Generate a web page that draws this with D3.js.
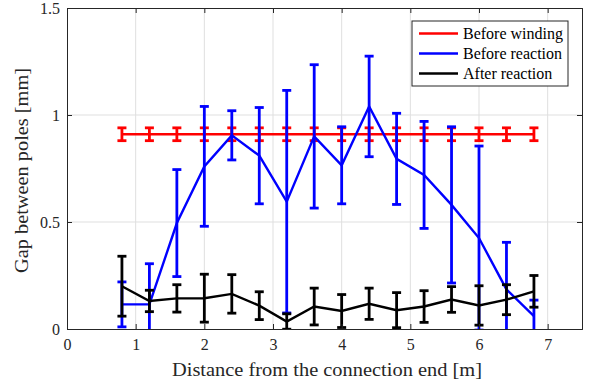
<!DOCTYPE html>
<html>
<head>
<meta charset="utf-8">
<script src="https://cdn.jsdelivr.net/npm/d3@7"></script>
<style>
  body { margin: 0; background: #fff; }
  svg text { font-family: 'Liberation Serif', 'Times New Roman', Times, 'DejaVu Serif', serif !important; }
</style>
</head>
<body>
<svg id="chart" width="591" height="383"></svg>
<script>
const width = 591, height = 383;
const margin = { top: 8, right: 9, bottom: 54, left: 67 };

// positions along the winding [m]
const distance = [0.8, 1.2, 1.6, 2.0, 2.4, 2.8, 3.2, 3.6, 4.0, 4.4, 4.8, 5.2, 5.6, 6.0, 6.4, 6.8];

// gap [mm] and error (half-width)
const beforeWinding = [0.91, 0.91, 0.91, 0.91, 0.91, 0.91, 0.91, 0.91, 0.91, 0.91, 0.91, 0.91, 0.91, 0.91, 0.91, 0.91];
const beforeWindingErr = [0.03, 0.03, 0.03, 0.03, 0.03, 0.03, 0.03, 0.03, 0.03, 0.03, 0.03, 0.03, 0.03, 0.03, 0.03, 0.03];

const beforeReaction = [0.115, 0.115, 0.495, 0.76, 0.905, 0.81, 0.595, 0.9, 0.765, 1.04, 0.795, 0.72, 0.58, 0.425, 0.185, 0.06];
const beforeReactionErr = [0.105, 0.19, 0.25, 0.28, 0.115, 0.225, 0.52, 0.335, 0.18, 0.235, 0.213, 0.25, 0.365, 0.43, 0.22, 0.075];

const afterReaction = [0.2, 0.131, 0.143, 0.144, 0.164, 0.109, 0.035, 0.105, 0.084, 0.118, 0.088, 0.105, 0.138, 0.11, 0.137, 0.176];
const afterReactionErr = [0.14, 0.05, 0.064, 0.112, 0.09, 0.065, 0.036, 0.086, 0.077, 0.073, 0.082, 0.074, 0.06, 0.092, 0.07, 0.074];

const xTicks = [0, 1, 2, 3, 4, 5, 6, 7];
const yTicks = [0, 0.5, 1, 1.5];

const series = [
  { name: 'Before winding', color: '#ff0000', values: beforeWinding, err: beforeWindingErr },
  { name: 'Before reaction', color: '#0000ff', values: beforeReaction, err: beforeReactionErr },
  { name: 'After reaction', color: '#000000', values: afterReaction, err: afterReactionErr }
];

const svg = d3.select('#chart');
const iw = width - margin.left - margin.right;
const ih = height - margin.top - margin.bottom;

const x = d3.scaleLinear().domain([0, 7.5]).range([margin.left, margin.left + iw]);
const y = d3.scaleLinear().domain([0, 1.5]).range([margin.top + ih, margin.top]);

// grid
const grid = svg.append('g').attr('stroke', '#dfdfdf').attr('stroke-width', 1);
grid.selectAll('.gx').data(xTicks.slice(1)).enter().append('line')
  .attr('x1', d => x(d)).attr('x2', d => x(d))
  .attr('y1', y(0)).attr('y2', y(1.5));
grid.selectAll('.gy').data(yTicks.slice(1, -1)).enter().append('line')
  .attr('x1', x(0)).attr('x2', x(7.5))
  .attr('y1', d => y(d)).attr('y2', d => y(d));

// clip to plot area
svg.append('clipPath').attr('id', 'plot-clip').append('rect')
  .attr('x', margin.left).attr('y', margin.top).attr('width', iw).attr('height', ih);

const plot = svg.append('g').attr('clip-path', 'url(#plot-clip)');
const capW = 4.5;

series.forEach(s => {
  const g = plot.append('g').attr('stroke', s.color).attr('fill', 'none');
  const pts = distance.map((d, i) => ({ x: d, v: s.values[i], e: s.err[i] }));

  g.append('path')
    .attr('stroke-width', 2.4)
    .attr('d', d3.line().x(d => x(d.x)).y(d => y(d.v))(pts));

  const eb = g.selectAll('.eb').data(pts).enter().append('g').attr('stroke-width', 2.8);
  eb.append('line')
    .attr('x1', d => x(d.x)).attr('x2', d => x(d.x))
    .attr('y1', d => y(d.v - d.e)).attr('y2', d => y(d.v + d.e));
  eb.append('line')
    .attr('x1', d => x(d.x) - capW).attr('x2', d => x(d.x) + capW)
    .attr('y1', d => y(d.v + d.e)).attr('y2', d => y(d.v + d.e));
  eb.append('line')
    .attr('x1', d => x(d.x) - capW).attr('x2', d => x(d.x) + capW)
    .attr('y1', d => y(d.v - d.e)).attr('y2', d => y(d.v - d.e));
});

// axes (box with inward ticks)
const axisColor = '#262626';
const axBottom = svg.append('g').attr('transform', `translate(0,${y(0)})`)
  .call(d3.axisBottom(x).tickValues(xTicks).tickSize(-5).tickPadding(10).tickFormat(d3.format('~g')));
const axTop = svg.append('g').attr('transform', `translate(0,${y(1.5)})`)
  .call(d3.axisTop(x).tickValues(xTicks).tickSize(-5).tickFormat(''));
const axLeft = svg.append('g').attr('transform', `translate(${x(0)},0)`)
  .call(d3.axisLeft(y).tickValues(yTicks).tickSize(-5).tickPadding(7).tickFormat(d3.format('~g')));
const axRight = svg.append('g').attr('transform', `translate(${x(7.5)},0)`)
  .call(d3.axisRight(y).tickValues(yTicks).tickSize(-5).tickFormat(''));

[axBottom, axTop, axLeft, axRight].forEach(a => {
  a.attr('font-size', 16);
  a.select('.domain').attr('stroke', axisColor).attr('stroke-width', 1);
  a.selectAll('.tick line').attr('stroke', axisColor);
  a.selectAll('.tick text').attr('fill', axisColor);
});

// axis titles
svg.append('text')
  .attr('x', 172).attr('y', 376)
  .attr('font-size', 18).attr('fill', axisColor)
  .attr('textLength', 310).attr('lengthAdjust', 'spacingAndGlyphs')
  .text('Distance from the connection end [m]');
svg.append('text')
  .attr('transform', `translate(28,273) rotate(-90)`)
  .attr('font-size', 18).attr('fill', axisColor)
  .attr('textLength', 205).attr('lengthAdjust', 'spacingAndGlyphs')
  .text('Gap between poles [mm]');

// legend
const lg = svg.append('g').attr('transform', 'translate(412,21)');
lg.append('rect').attr('width', 156).attr('height', 65)
  .attr('fill', '#fff').attr('stroke', axisColor).attr('stroke-width', 1);
series.forEach((s, i) => {
  const ly = 12.5 + i * 20;
  lg.append('line').attr('x1', 7).attr('x2', 46).attr('y1', ly).attr('y2', ly)
    .attr('stroke', s.color).attr('stroke-width', 2.4);
  lg.append('text').attr('x', 51).attr('y', ly + 5.5).attr('font-size', 16).attr('fill', '#000').text(s.name);
});
</script>
</body>
</html>
